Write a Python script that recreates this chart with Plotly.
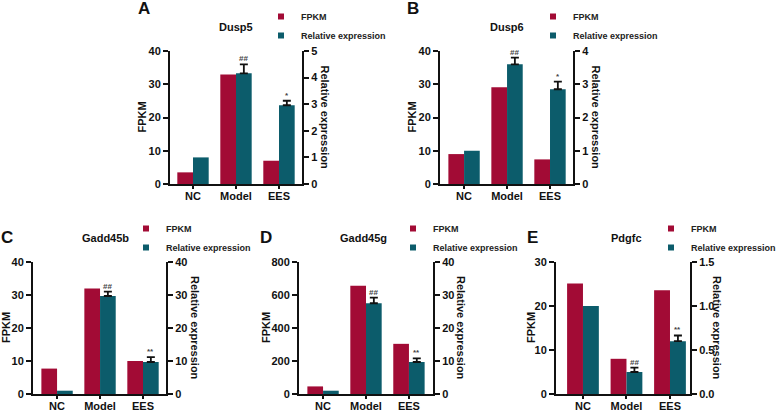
import plotly.graph_objects as go

W, H = 777, 412

categories = ["NC", "Model", "EES"]
genes = ["Dusp5", "Dusp6", "Gadd45b", "Gadd45g", "Pdgfc"]
panel_letters = ["A", "B", "C", "D", "E"]

fpkm_dusp5 = [3.5, 32.9, 7.0]
rel_dusp5 = [1.0, 4.16, 2.96]
err_dusp5 = [None, 0.34, 0.17]

fpkm_dusp6 = [9.0, 29.1, 7.4]
rel_dusp6 = [1.0, 3.6, 2.85]
err_dusp6 = [None, 0.2, 0.23]

fpkm_gadd45b = [7.7, 32.0, 10.0]
rel_gadd45b = [1.0, 29.7, 9.7]
err_gadd45b = [None, 1.3, 1.5]

fpkm_gadd45g = [46, 656, 304]
rel_gadd45g = [1.0, 27.5, 9.7]
err_gadd45g = [None, 1.7, 1.1]

fpkm_pdgfc = [25.1, 8.0, 23.6]
rel_pdgfc = [1.0, 0.25, 0.6]
err_pdgfc = [None, 0.05, 0.065]

sig_dusp5 = ["", "##", "*"]
sig_dusp6 = ["", "##", "*"]
sig_gadd45b = ["", "##", "**"]
sig_gadd45g = ["", "##", "**"]
sig_pdgfc = ["", "##", "**"]

left_ranges = [(40, 10), (40, 10), (40, 10), (800, 200), (30, 10)]
right_ranges = [(5, 1), (4, 1), (40, 10), (40, 10), (1.5, 0.5)]

fpkm_all = [fpkm_dusp5, fpkm_dusp6, fpkm_gadd45b, fpkm_gadd45g, fpkm_pdgfc]
rel_all = [rel_dusp5, rel_dusp6, rel_gadd45b, rel_gadd45g, rel_pdgfc]
err_all = [err_dusp5, err_dusp6, err_gadd45b, err_gadd45g, err_pdgfc]
sig_all = [sig_dusp5, sig_dusp6, sig_gadd45b, sig_gadd45g, sig_pdgfc]

RED = "#A20B35"
TEAL = "#0C5C6B"
FONT = "Liberation Sans"

# layout geometry (pixels): plot area L, R, top, bottom; x range
panels = [
    dict(L=170, R=302, T=51, B=184, xr=[-0.535, 2.535], ftx=142, rtx=324,
         title=(236, 27), letter=(144, 9), leg=(261, 2)),
    dict(L=440, R=573, T=51, B=184, xr=[-0.56, 2.535], ftx=412, rtx=595,
         title=(507, 27), letter=(413, 9), leg=(533, 2)),
    dict(L=33, R=166, T=262, B=394, xr=[-0.56, 2.535], ftx=6, rtx=195,
         title=(105, 238), letter=(7, 237), leg=(126, 214)),
    dict(L=299, R=433, T=262, B=394, xr=[-0.56, 2.56], ftx=266, rtx=461,
         title=(363, 238), letter=(266, 237), leg=(393, 214)),
    dict(L=556, R=690, T=262, B=394, xr=[-0.62, 2.46], ftx=531, rtx=717,
         title=(626, 238), letter=(532, 237), leg=(651, 214)),
]

def px(x):
    return x / W

def py(y):
    return 1 - y / H

def err_plus(vals):
    # "NaN" string -> no error bar drawn for that point
    return ["NaN" if v is None else v for v in vals]

def err_minus(vals):
    return ["NaN" if v is None else 0 for v in vals]

fig = go.Figure()
layout = dict(
    width=W, height=H,
    margin=dict(l=0, r=0, t=0, b=0, autoexpand=False),
    paper_bgcolor="white", plot_bgcolor="white",
    barmode="group", bargap=0.27, bargroupgap=0,
    font=dict(family=FONT, color="#111", size=11, weight="bold"),
    showlegend=True,
)
annotations = []

tickfont = dict(family=FONT, size=11, color="#111", weight="bold")

for i, p in enumerate(panels):
    xid = "x" if i == 0 else f"x{i+1}"
    yl = f"y{2*i+1}" if i > 0 else "y"
    yr = f"y{2*i+2}"
    xkey = "xaxis" if i == 0 else f"xaxis{i+1}"
    ylkey = "yaxis" if i == 0 else f"yaxis{2*i+1}"
    yrkey = f"yaxis{2*i+2}"
    legname = "legend" if i == 0 else f"legend{i+1}"

    layout[xkey] = dict(
        domain=[px(p["L"]), px(p["R"])], anchor=yl, type="category",
        range=p["xr"], showline=True, linewidth=2, linecolor="#111",
        ticks="outside", ticklen=3, tickwidth=1.5, tickcolor="#111",
        ticklabelstandoff=-2,
        tickfont=dict(family=FONT, size=11, color="#111", weight="bold"),
        showgrid=False, zeroline=False, fixedrange=True,
    )
    lmax, ldt = left_ranges[i]
    rmax, rdt = right_ranges[i]
    layout[ylkey] = dict(
        domain=[py(p["B"]), py(p["T"])], anchor=xid, range=[0, lmax], dtick=ldt,
        showline=True, linewidth=2, linecolor="#111",
        ticks="outside", ticklen=5, tickwidth=2, tickcolor="#111",
        tickfont=tickfont, showgrid=False, zeroline=False,
    )
    layout[yrkey] = dict(
        domain=[py(p["B"]), py(p["T"])], anchor=xid, overlaying=yl, side="right",
        range=[0, rmax], dtick=rdt, tickformat=".1f" if rdt < 1 else "d",
        showline=True, linewidth=2, linecolor="#111",
        ticks="outside", ticklen=5, tickwidth=2, tickcolor="#111",
        tickfont=tickfont, showgrid=False, zeroline=False,
    )
    lx, ly = p["leg"]
    layout[legname] = dict(
        x=px(lx), y=py(ly), xanchor="left", yanchor="top",
        bgcolor="rgba(0,0,0,0)", borderwidth=0,
        font=dict(family=FONT, size=9, color="#222", weight="bold"),
        itemclick=False, itemdoubleclick=False,
    )

    fig.add_trace(go.Bar(
        x=categories, y=fpkm_all[i], marker=dict(color=RED, line=dict(width=0)),
        xaxis=xid, yaxis=yl, offsetgroup="1", alignmentgroup=f"g{i}",
        name="FPKM", showlegend=False,
    ))
    fig.add_trace(go.Bar(
        x=categories, y=rel_all[i], marker=dict(color=TEAL, line=dict(width=0)),
        xaxis=xid, yaxis=yr, offsetgroup="2", alignmentgroup=f"g{i}",
        name="Relative expression", showlegend=False,
        error_y=dict(type="data", symmetric=False, array=err_plus(err_all[i]),
                     arrayminus=err_minus(err_all[i]), color="#111",
                     thickness=1.8, width=4),
    ))
    # legend entries
    fig.add_trace(go.Scatter(
        x=[None], y=[None], mode="markers", xaxis=xid, yaxis=yl,
        marker=dict(symbol="square", size=6, color=RED),
        name="FPKM", legend=legname, showlegend=True,
    ))
    fig.add_trace(go.Scatter(
        x=[None], y=[None], mode="markers", xaxis=xid, yaxis=yl,
        marker=dict(symbol="square", size=6, color=TEAL),
        name="Relative expression", legend=legname, showlegend=True,
    ))

    # significance marks above teal bars
    for j, s in enumerate(sig_all[i]):
        if s:
            annotations.append(dict(
                x=j + 0.18, y=rel_all[i][j] + (err_all[i][j] or 0), xref=xid, yref=yr,
                text=s, showarrow=False, xanchor="center", yanchor="bottom", yshift=-1,
                font=dict(family=FONT, size=8, color="#444"),
            ))

    mid = py((p["T"] + p["B"]) / 2)
    # axis titles
    annotations.append(dict(
        x=px(p["ftx"]), y=mid, xref="paper", yref="paper",
        text="<b>FPKM</b>", textangle=-90, showarrow=False,
        xanchor="center", yanchor="middle",
        font=dict(family=FONT, size=11, color="#111"),
    ))
    annotations.append(dict(
        x=px(p["rtx"]), y=mid, xref="paper", yref="paper",
        text="<b>Relative expression</b>", textangle=90, showarrow=False,
        xanchor="center", yanchor="middle",
        font=dict(family=FONT, size=11, color="#111"),
    ))
    # gene title
    tx, ty = p["title"]
    annotations.append(dict(
        x=px(tx), y=py(ty), xref="paper", yref="paper", text=f"<b>{genes[i]}</b>",
        showarrow=False, xanchor="center", yanchor="middle",
        font=dict(family=FONT, size=11, color="#111"),
    ))
    # panel letter
    lx2, ly2 = p["letter"]
    annotations.append(dict(
        x=px(lx2), y=py(ly2), xref="paper", yref="paper",
        text=f"<b>{panel_letters[i]}</b>", showarrow=False,
        xanchor="center", yanchor="middle",
        font=dict(family=FONT, size=17, color="#111"),
    ))

layout["annotations"] = annotations
fig.update_layout(**layout)
fig.write_html("out.html", config={"displayModeBar": False},
               post_script="document.body.style.margin='0';")
